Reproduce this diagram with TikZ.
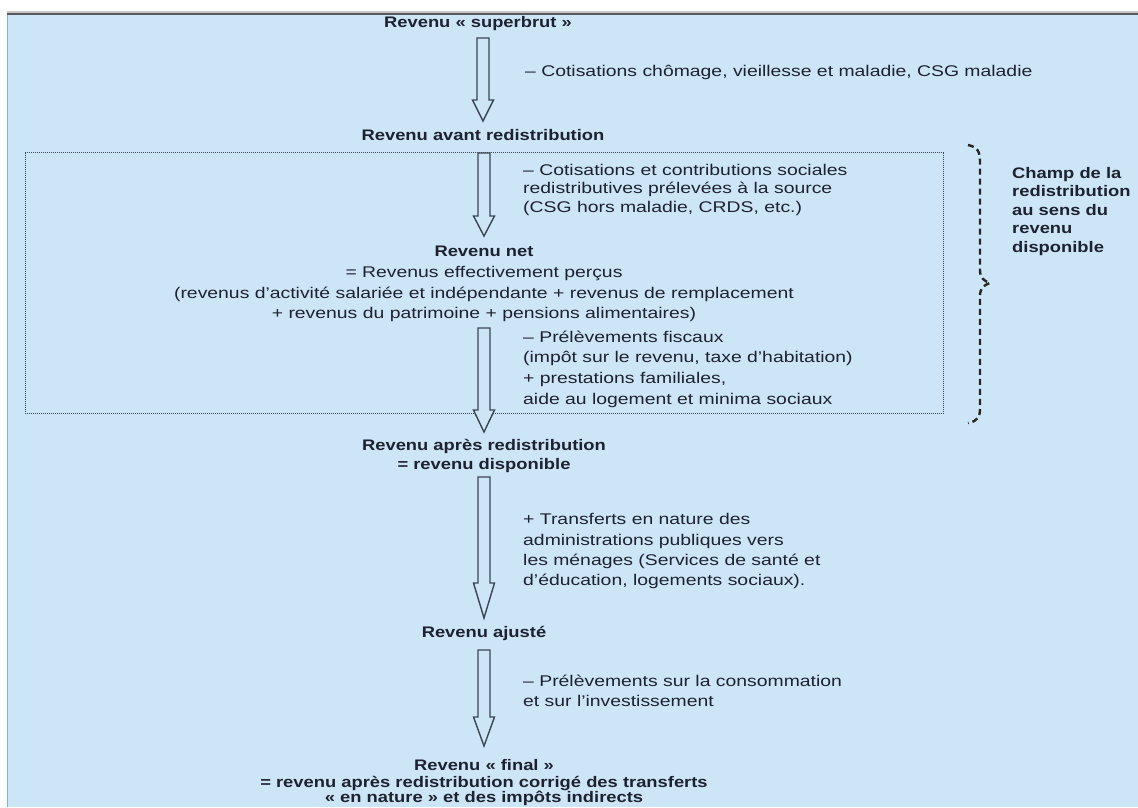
\documentclass[tikz,border=0pt]{standalone}
\usepackage{fontspec}
\setmainfont{Liberation Sans}[FakeStretch=1.2]
\newfontfamily\bodyfont{Liberation Sans}[FakeStretch=1.25]
\usetikzlibrary{calc}
\definecolor{bgblue}{HTML}{CCE5F7}
\definecolor{edgeblue}{HTML}{7FB2E6}
\definecolor{txt}{HTML}{1E2230}
\definecolor{arr}{HTML}{3C4652}
\tikzset{
  ttl/.style={font=\fontsize{15.3}{18.5}\selectfont\bfseries, text=txt, inner sep=0pt, align=center},
  body/.style={font=\bodyfont\fontsize{15.5}{18.5}\selectfont, text=txt, inner sep=0pt},
  hollow/.style={draw=arr, line width=1.4pt, line join=miter, fill=bgblue},
}
\newcommand\harrow[3]{% #1 top coordinate, #2 head-base offset, #3 apex offset
  \draw[hollow] ($(#1)+(-6,0)$) -- ($(#1)+(6,0)$) -- ($(#1)+(6,#2)$) -- ($(#1)+(10.5,#2)$)
     -- ($(#1)+(0,#3)$) -- ($(#1)+(-10.5,#2)$) -- ($(#1)+(-6,#2)$) -- cycle;}
\begin{document}
\begin{tikzpicture}[x=1pt,y=-1pt]
\useasboundingbox (0,0) rectangle (1138,807);
\fill[white] (0,0) rectangle (1138,807);
\fill[bgblue] (7,14) rectangle (1138,807);
\draw[edgeblue, line width=1.5pt] (7.5,15) -- (7.5,807);
\fill[black!22] (7,11) rectangle (1138,13);
\fill[black!65] (7,13) rectangle (1138,15);

% dotted box
\draw[arr, line width=1pt, densely dotted] (25,152.5) rectangle (943,413);

% titles
\node[ttl, anchor=base] (t1) at (478,27) {Revenu « superbrut »};
\node[ttl, anchor=base] (t2) at (483,140) {Revenu avant redistribution};
\node[ttl, anchor=base] (t3) at (484,256) {Revenu net};
\node[body, anchor=base] (t3a) at (484,277) {= Revenus effectivement perçus};
\node[body, anchor=base] (t3b) at (484,298) {(revenus d’activité salariée et indépendante + revenus de remplacement};
\node[body, anchor=base] (t3c) at (484,318) {+ revenus du patrimoine + pensions alimentaires)};
\node[ttl, anchor=base] (t4) at (484,450) {Revenu après redistribution};
\node[ttl, anchor=base] (t4b) at (484,469) {= revenu disponible};
\node[ttl, anchor=base] (t5) at (484,637) {Revenu ajusté};
\node[ttl, anchor=base] (t6) at (484,770) {Revenu « final »};
\node[ttl, anchor=base] (t6b) at (484,787) {= revenu après redistribution corrigé des transferts};
\node[ttl, anchor=base] (t6c) at (484,802) {« en nature » et des impôts indirects};

% arrows
\coordinate (a1) at (483,38);
\coordinate (a2) at (484,153);
\coordinate (a3) at (484,328);
\coordinate (a4) at (484,477);
\coordinate (a5) at (484,650);
\harrow{a1}{62}{83}
\harrow{a2}{63}{83}
\harrow{a3}{82}{104}
\harrow{a4}{106}{141}
\harrow{a5}{67}{96}

% comments
\node[body, anchor=base west] (c1) at (525,76) {– Cotisations chômage, vieillesse et maladie, CSG maladie};
\node[body, anchor=base west] (c2) at (523,175) {– Cotisations et contributions sociales};
\node[body, anchor=base west] (c2b) at (523,193.5) {redistributives prélevées à la source};
\node[body, anchor=base west] (c2c) at (523,212) {(CSG hors maladie, CRDS, etc.)};
\node[body, anchor=base west] (c3) at (523,342) {– Prélèvements fiscaux};
\node[body, anchor=base west] (c3b) at (523,362) {(impôt sur le revenu, taxe d’habitation)};
\node[body, anchor=base west] (c3c) at (523,383) {+ prestations familiales,};
\node[body, anchor=base west] (c3d) at (523,404) {aide au logement et minima sociaux};
\node[body, anchor=base west] (c4) at (523,524) {+ Transferts en nature des};
\node[body, anchor=base west] (c4b) at (523,545) {administrations publiques vers};
\node[body, anchor=base west] (c4c) at (523,565) {les ménages (Services de santé et};
\node[body, anchor=base west] (c4d) at (523,585) {d’éducation, logements sociaux).};
\node[body, anchor=base west] (c5) at (523,686) {– Prélèvements sur la consommation};
\node[body, anchor=base west] (c5b) at (523,706) {et sur l’investissement};

% brace
\draw[black!85, line width=2.4pt, dash pattern=on 6pt off 4pt]
  (968,145) .. controls (978,147) and (980,152) .. (980,162)
  -- (980,270) .. controls (980,278) and (984,281) .. (990,283)
  .. controls (984,285) and (980,288) .. (980,296)
  -- (980,408) .. controls (980,417) and (978,421) .. (968,423);
\node[ttl, anchor=base west, align=left] (champ) at (1012,252) {Champ de la\\redistribution\\au sens du\\revenu\\disponible};
\end{tikzpicture}
\end{document}
